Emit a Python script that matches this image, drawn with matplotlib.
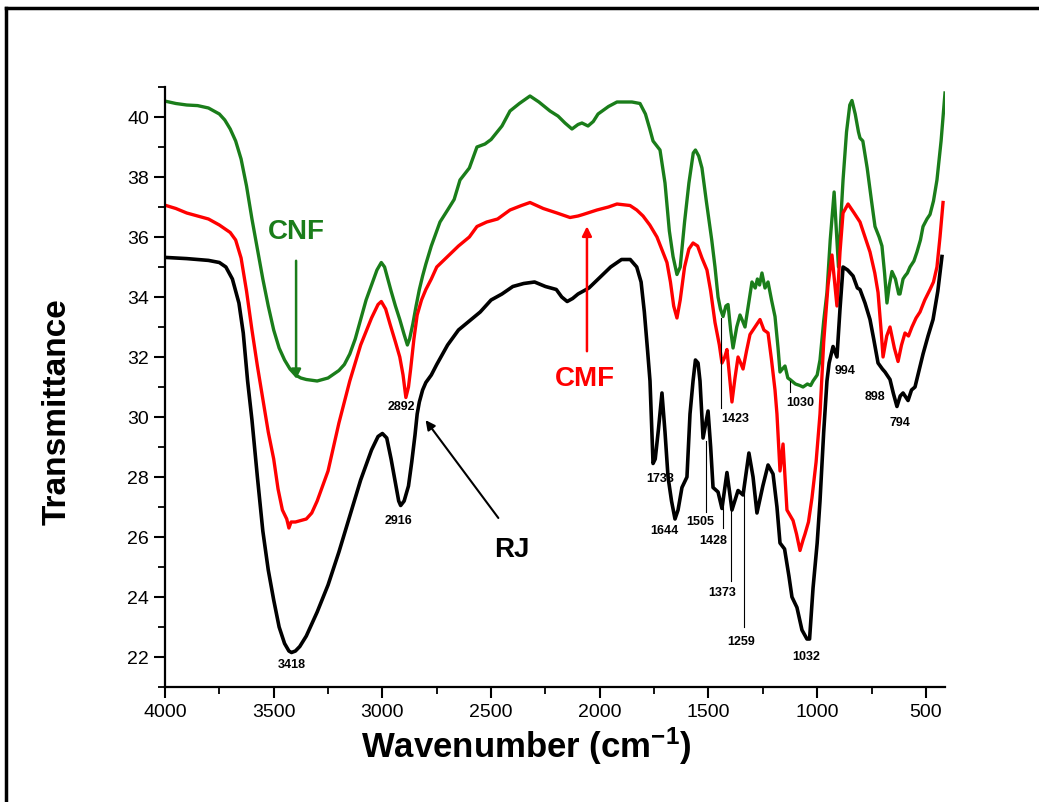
import matplotlib
matplotlib.use("Agg")
import matplotlib.pyplot as plt
from matplotlib.lines import Line2D

plt.rcParams["font.family"] = ["Liberation Sans", "DejaVu Sans"]
plt.rcParams["mathtext.fontset"] = "custom"
plt.rcParams["mathtext.bf"] = "Liberation Sans:bold"
plt.rcParams["mathtext.rm"] = "Liberation Sans:bold"
plt.rcParams["mathtext.default"] = "bf"

# RJ (raw) spectrum
rj_wn = [4000, 3900, 3800, 3750, 3720, 3690, 3660, 3640, 3620, 3600, 3575, 3550, 3525, 3500,
         3475, 3450, 3430, 3418, 3400, 3380, 3350, 3300, 3250, 3200, 3150, 3100, 3050, 3020,
         3000, 2980, 2960, 2940, 2925, 2916, 2900, 2880, 2865, 2850, 2840, 2830, 2815, 2800,
         2775, 2750, 2700, 2650, 2600, 2550, 2500, 2450, 2400, 2350, 2300, 2250, 2200, 2175,
         2150, 2125, 2100, 2050, 2000, 1950, 1900, 1860, 1830, 1810, 1795, 1780, 1769, 1755,
         1745, 1730, 1714, 1700, 1686, 1670, 1654, 1640, 1622, 1599, 1585, 1571, 1560, 1548,
         1539, 1525, 1512, 1502, 1490, 1479, 1456, 1438, 1415, 1392, 1364, 1341, 1314, 1295,
         1277, 1250, 1226, 1203, 1185, 1171, 1150, 1130, 1116, 1093, 1070, 1047, 1035, 1019,
         1000, 987, 970, 955, 945, 927, 909, 895, 881, 860, 835, 815, 803, 780, 757, 740, 720,
         700, 688, 665, 650, 633, 618, 605, 582, 566, 550, 530, 513, 490, 467, 445, 426]
rj_t = [35.32, 35.28, 35.22, 35.15, 35.0, 34.6, 33.8, 32.8, 31.2, 29.9, 28.0, 26.2, 24.9, 23.9,
        23.0, 22.45, 22.2, 22.15, 22.2, 22.35, 22.7, 23.5, 24.4, 25.5, 26.7, 27.9, 28.9, 29.35,
        29.45, 29.3, 28.6, 27.8, 27.2, 27.05, 27.2, 27.7, 28.5, 29.4, 30.1, 30.5, 30.9, 31.15,
        31.4, 31.75, 32.4, 32.9, 33.2, 33.5, 33.9, 34.1, 34.35, 34.45, 34.5, 34.35, 34.25, 34.0,
        33.85, 33.95, 34.1, 34.3, 34.65, 35.0, 35.25, 35.25, 35.0, 34.5, 33.5, 32.2, 31.2, 28.45,
        28.6, 29.6, 30.8, 29.5, 28.0, 27.2, 26.6, 26.9, 27.65, 28.0, 30.1, 31.2, 31.9, 31.8,
        31.2, 29.3, 29.8, 30.2, 29.0, 27.65, 27.5, 26.95, 28.15, 26.9, 27.55, 27.4, 28.8, 28.0,
        26.8, 27.7, 28.4, 28.1, 27.0, 25.8, 25.6, 24.7, 24.0, 23.65, 22.9, 22.6, 22.6, 24.3,
        25.8, 27.2, 29.5, 31.2, 31.8, 32.35, 32.0, 33.6, 35.0, 34.9, 34.7, 34.3, 34.25, 33.8,
        33.25, 32.6, 31.8, 31.6, 31.5, 31.25, 30.8, 30.35, 30.7, 30.8, 30.55, 30.9, 31.0, 31.6,
        32.1, 32.7, 33.25, 34.2, 35.35]

# CMF spectrum
cmf_wn = [4000, 3950, 3900, 3850, 3800, 3750, 3700, 3675, 3650, 3625, 3600, 3575, 3550, 3525,
          3500, 3480, 3460, 3440, 3430, 3420, 3400, 3375, 3350, 3325, 3300, 3250, 3200, 3150,
          3100, 3050, 3020, 3005, 2985, 2965, 2940, 2920, 2905, 2892, 2880, 2870, 2855, 2840,
          2820, 2800, 2775, 2750, 2700, 2650, 2600, 2565, 2520, 2470, 2413, 2360, 2321, 2260,
          2197, 2137, 2100, 2077, 2013, 1960, 1921, 1861, 1830, 1801, 1770, 1737, 1710, 1691,
          1675, 1660, 1645, 1630, 1610, 1590, 1571, 1550, 1530, 1507, 1490, 1470, 1450, 1438,
          1425, 1415, 1405, 1392, 1378, 1364, 1352, 1341, 1325, 1309, 1286, 1263, 1245, 1226,
          1210, 1194, 1185, 1171, 1157, 1139, 1111, 1095, 1079, 1065, 1056, 1040, 1024, 1005,
          987, 970, 950, 932, 920, 909, 895, 881, 858, 830, 803, 780, 757, 735, 720, 705, 697,
          680, 665, 645, 628, 612, 596, 580, 564, 545, 527, 505, 481, 465, 449, 435, 421]
cmf_t = [37.06, 36.95, 36.8, 36.7, 36.6, 36.4, 36.15, 35.9, 35.3, 34.2, 32.9, 31.7, 30.6, 29.5,
         28.6, 27.6, 26.9, 26.6, 26.3, 26.5, 26.5, 26.55, 26.6, 26.8, 27.2, 28.2, 29.8, 31.2,
         32.4, 33.3, 33.75, 33.85, 33.6, 33.1, 32.5, 32.0, 31.4, 30.65, 31.0, 31.6, 32.6, 33.4,
         33.9, 34.25, 34.6, 35.0, 35.35, 35.7, 36.0, 36.35, 36.5, 36.6, 36.9, 37.05, 37.15, 36.95,
         36.8, 36.65, 36.7, 36.75, 36.9, 37.0, 37.1, 37.05, 36.9, 36.7, 36.4, 36.0, 35.5, 35.15,
         34.5, 33.7, 33.3, 33.9, 35.0, 35.6, 35.8, 35.7, 35.3, 34.9, 34.2, 33.15, 32.4, 31.8,
         32.0, 32.25, 31.5, 30.5, 31.3, 32.0, 31.8, 31.6, 32.2, 32.75, 33.0, 33.25, 32.9, 32.8,
         31.9, 30.9, 30.1, 28.2, 29.1, 26.9, 26.55, 26.1, 25.55, 25.9, 26.1, 26.5, 27.3, 28.5,
         30.1, 32.5, 34.4, 35.4, 34.5, 33.7, 35.5, 36.8, 37.1, 36.8, 36.5, 36.0, 35.5, 34.8,
         34.15, 32.8, 32.0, 32.7, 33.0, 32.3, 31.85, 32.4, 32.8, 32.7, 33.0, 33.3, 33.5, 33.9,
         34.25, 34.5, 35.0, 36.0, 37.15]

# CNF spectrum
cnf_wn = [4000, 3950, 3900, 3850, 3800, 3750, 3725, 3700, 3675, 3650, 3625, 3600, 3575, 3550,
          3525, 3500, 3475, 3450, 3425, 3400, 3375, 3350, 3300, 3250, 3200, 3175, 3150, 3125,
          3100, 3075, 3050, 3025, 3005, 2990, 2975, 2960, 2940, 2920, 2900, 2885, 2875, 2860,
          2845, 2830, 2815, 2800, 2775, 2750, 2735, 2700, 2670, 2643, 2600, 2565, 2528, 2500,
          2450, 2413, 2370, 2321, 2280, 2229, 2192, 2160, 2128, 2100, 2082, 2054, 2030, 2008,
          1960, 1921, 1852, 1815, 1790, 1770, 1755, 1723, 1700, 1680, 1663, 1645, 1630, 1610,
          1590, 1570, 1560, 1545, 1530, 1510, 1485, 1470, 1456, 1445, 1433, 1420, 1410, 1398,
          1387, 1370, 1355, 1343, 1332, 1315, 1300, 1285, 1275, 1265, 1254, 1240, 1226, 1210,
          1194, 1180, 1171, 1160, 1148, 1135, 1125, 1100, 1080, 1065, 1045, 1030, 1019, 1000,
          987, 970, 955, 940, 922, 910, 902, 892, 881, 865, 850, 840, 825, 810, 803, 790, 770,
          750, 734, 715, 702, 690, 679, 668, 656, 640, 625, 619, 605, 596, 585, 573, 555, 541,
          525, 513, 495, 481, 465, 449, 430, 412]
cnf_t = [40.53, 40.45, 40.4, 40.38, 40.3, 40.1, 39.9, 39.6, 39.2, 38.6, 37.7, 36.6, 35.6, 34.6,
         33.7, 32.9, 32.3, 31.9, 31.6, 31.4, 31.3, 31.25, 31.2, 31.3, 31.55, 31.75, 32.1, 32.6,
         33.25, 33.9, 34.4, 34.9, 35.15, 35.0, 34.6, 34.2, 33.7, 33.25, 32.75, 32.4, 32.6, 33.1,
         33.7, 34.25, 34.7, 35.1, 35.7, 36.2, 36.5, 36.9, 37.25, 37.9, 38.3, 39.0, 39.1, 39.25,
         39.7, 40.2, 40.45, 40.7, 40.5, 40.2, 40.03, 39.8, 39.6, 39.75, 39.8, 39.7, 39.85, 40.1,
         40.35, 40.5, 40.5, 40.45, 40.1, 39.6, 39.2, 38.9, 37.8, 36.2, 35.35, 34.75, 35.0, 36.5,
         37.8, 38.8, 38.9, 38.7, 38.3, 37.2, 35.9, 35.0, 34.0, 33.6, 33.35, 33.7, 33.75, 32.9,
         32.3, 33.0, 33.4, 33.2, 33.0, 33.8, 34.5, 34.3, 34.6, 34.4, 34.8, 34.3, 34.5, 33.9,
         33.35, 32.3, 31.5, 31.6, 31.7, 31.3, 31.25, 31.1, 31.05, 31.0, 31.1, 31.05, 31.2, 31.4,
         31.9, 33.2, 34.15, 35.9, 37.5, 36.0, 35.0, 36.5, 37.9, 39.5, 40.4, 40.55, 40.1, 39.5,
         39.3, 39.2, 38.3, 37.2, 36.35, 36.0, 35.7, 34.8, 33.8, 34.4, 34.85, 34.6, 34.1, 34.1,
         34.6, 34.7, 34.8, 35.0, 35.2, 35.5, 35.9, 36.35, 36.6, 36.75, 37.2, 37.9, 39.2, 40.8]

# peak labels: text, x, y
peak_labels = ["3418", "2916", "2892", "1738", "1644", "1505", "1428", "1373", "1259",
               "1032", "1423", "1030", "994", "898", "794"]
peak_x = [3416, 2924, 2914, 1723, 1705, 1539, 1479, 1438, 1350, 1051, 1378, 1079, 872, 734, 619]
peak_y = [21.77, 26.56, 30.37, 27.96, 26.22, 26.52, 25.89, 24.15, 22.54, 22.04, 29.97, 30.5,
          31.57, 30.7, 29.83]

# thin leader lines: x, y_top, y_bottom
lead_x = [1511, 1433, 1396, 1337, 1442, 1125]
lead_top = [29.2, 27.0, 27.0, 27.6, 33.3, 31.2]
lead_bot = [26.85, 26.3, 24.55, 23.0, 30.3, 30.85]

fig = plt.figure(figsize=(10.39, 8.03), dpi=100)
ax = fig.add_axes([165 / 1039, 1 - 688 / 803, 780 / 1039, 600 / 803])

ax.plot(cnf_wn, cnf_t, color="#1a7d1a", lw=2.4)
ax.plot(cmf_wn, cmf_t, color="#ff0000", lw=2.4)
ax.plot(rj_wn, rj_t, color="black", lw=2.6)

for lx, lt, lb in zip(lead_x, lead_top, lead_bot):
    ax.plot([lx, lx], [lt, lb], color="black", lw=0.8)

for s, px, py in zip(peak_labels, peak_x, peak_y):
    ax.text(px, py, s, fontsize=9, fontweight="bold", ha="center", va="center")

ax.annotate("", xy=(3397, 31.17), xytext=(3397, 35.3),
            arrowprops=dict(arrowstyle="-|>", color="#1a7d1a", lw=1.8, mutation_scale=14))
ax.text(3397, 36.2, "CNF", color="#1a7d1a", fontsize=20, fontweight="bold",
        ha="center", va="center")

ax.annotate("", xy=(2059, 36.45), xytext=(2059, 32.1),
            arrowprops=dict(arrowstyle="-|>", color="#ff0000", lw=1.8, mutation_scale=14))
ax.text(2068, 31.3, "CMF", color="#ff0000", fontsize=20, fontweight="bold",
        ha="center", va="center")

ax.annotate("", xy=(2809, 29.97), xytext=(2459, 26.56),
            arrowprops=dict(arrowstyle="-|>", color="black", lw=1.5, mutation_scale=14))
ax.text(2404, 25.6, "RJ", color="black", fontsize=20, fontweight="bold",
        ha="center", va="center")

ax.set_xlim(4000, 412)
ax.set_ylim(21, 41)
ax.set_xticks([4000, 3500, 3000, 2500, 2000, 1500, 1000, 500])
ax.set_xticks(range(3750, 400, -500), minor=True)
ax.set_yticks(range(22, 41, 2))
ax.set_yticks(range(21, 42, 2), minor=True)

for side in ["top", "right"]:
    ax.spines[side].set_visible(False)
for side in ["left", "bottom"]:
    ax.spines[side].set_linewidth(1.6)
ax.tick_params(which="major", direction="out", length=8, width=1.5, labelsize=14)
ax.tick_params(which="minor", direction="out", length=5, width=1.3)

ax.set_xlabel("Wavenumber (cm$^{-1}$)", fontsize=25, fontweight="bold")
ax.xaxis.set_label_coords(0.463, -0.062)
ax.set_ylabel("Transmittance", fontsize=24, fontweight="bold")
ax.yaxis.set_label_coords(-0.118, 0.46)

# outer frame (cropped on right/bottom)
fig.add_artist(Line2D([6 / 1039, 6 / 1039], [0, 1 - 9 / 803], color="black", lw=2.5,
                      transform=fig.transFigure))
fig.add_artist(Line2D([6 / 1039, 1], [1 - 9 / 803, 1 - 9 / 803], color="black", lw=2.5,
                      transform=fig.transFigure))

fig.savefig("out.png", dpi=100)
